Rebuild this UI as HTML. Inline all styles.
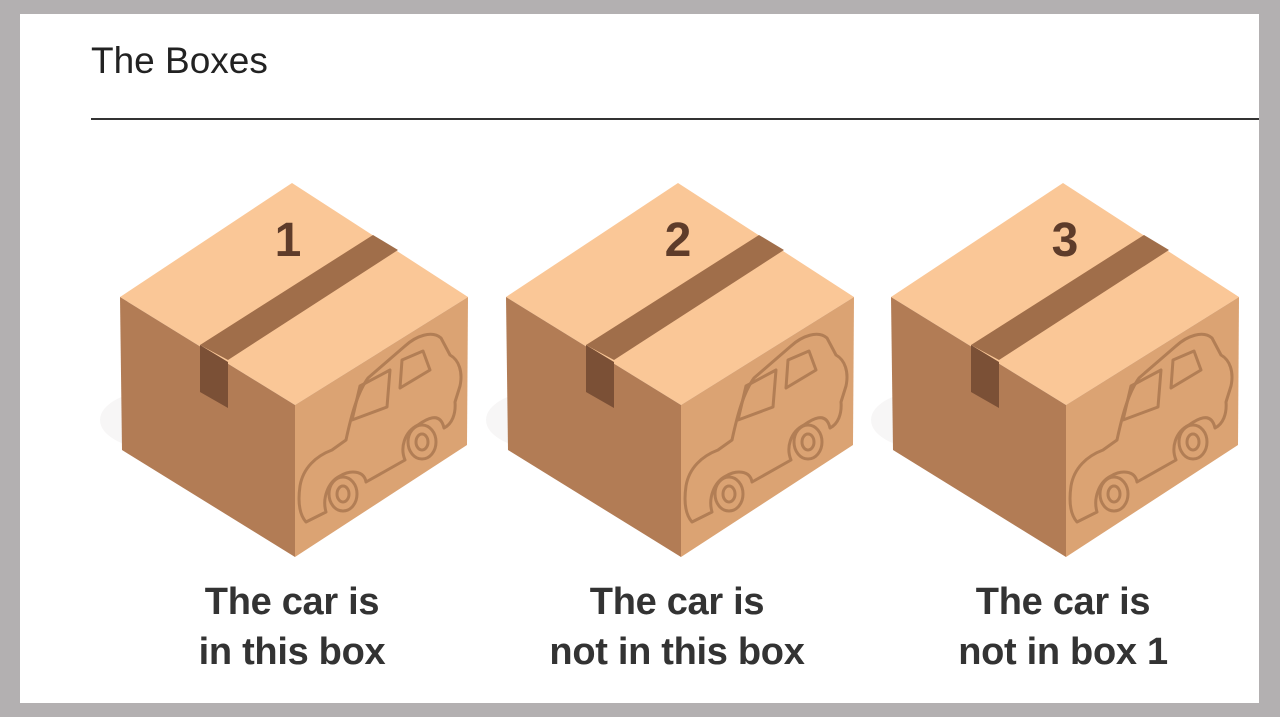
<!DOCTYPE html>
<html><head><meta charset="utf-8"><style>
html,body{margin:0;padding:0;background:#b3b0b1;}
body{width:1280px;height:717px;position:relative;overflow:hidden;font-family:"Liberation Sans",Arial,sans-serif;}
.panel{position:absolute;left:20px;top:14px;width:1239px;height:689px;background:#fff;}
.title{position:absolute;left:91px;top:40px;font-size:37px;color:#222;}
.rule{position:absolute;left:91px;top:118px;width:1168px;height:2px;background:#333;}
.lbl{position:absolute;width:320px;text-align:center;font-weight:bold;font-size:38px;line-height:50px;color:#333;top:577px;letter-spacing:-0.3px;}
</style></head><body>
<div class="panel"></div>
<div class="title">The Boxes</div>
<div class="rule"></div>
<svg width="1280" height="717" style="position:absolute;left:0;top:0">
<defs>
<g id="box">
<ellipse cx="160" cy="420" rx="60" ry="30" fill="#f3f2f2" opacity="0.7"/>
<polygon points="292,183 120,297 295,405 468,297" fill="#fac797"/>
<polygon points="120,297 295,405 295,557 122,450" fill="#b27c55"/>
<polygon points="295,405 468,297 467,445 295,557" fill="#dba373"/>
<polygon points="373,235 398,250 228,360 200,345" fill="#a06e4a"/>
<polygon points="200,345 228,362 228,408 200,392" fill="#7b5036"/>
<g fill="none" stroke="#b27e55" stroke-width="3" stroke-linejoin="round">
<path d="M306,522 C299,514 298,500 300,486 C303,468 316,456 332,450 L346,440 C352,412 358,392 368,378 L405,346 C416,336 432,330 441,338 L450,355 C459,360 463,372 460,386 L455,402 C456,414 452,424 444,428 C440,410 425,420 418,425 C404,432 400,448 405,460 L366,482 C364,470 350,470 340,476 C328,482 322,498 326,512 Z"/>
<path d="M352,420 L360,386 L390,370 L387,407 Z"/>
<path d="M400,388 L402,360 L423,351 L430,370 Z"/>
<ellipse cx="343" cy="494" rx="14" ry="17"/>
<ellipse cx="343" cy="494" rx="6" ry="8"/>
<ellipse cx="422" cy="442" rx="14" ry="17"/>
<ellipse cx="422" cy="442" rx="6" ry="8"/>
</g>
</g>
</defs>
<use href="#box"/>
<use href="#box" x="386"/>
<use href="#box" x="771"/>
<g font-family="Liberation Sans, Arial, sans-serif" font-weight="bold" font-size="48" fill="#5e3c2a" text-anchor="middle">
<text x="288" y="256">1</text>
<text x="678" y="256">2</text>
<text x="1065" y="256">3</text>
</g>
</svg>
<div class="lbl" style="left:132px">The car is<br>in this box</div>
<div class="lbl" style="left:517px">The car is<br>not in this box</div>
<div class="lbl" style="left:903px">The car is<br>not in box 1</div>
</body></html>
